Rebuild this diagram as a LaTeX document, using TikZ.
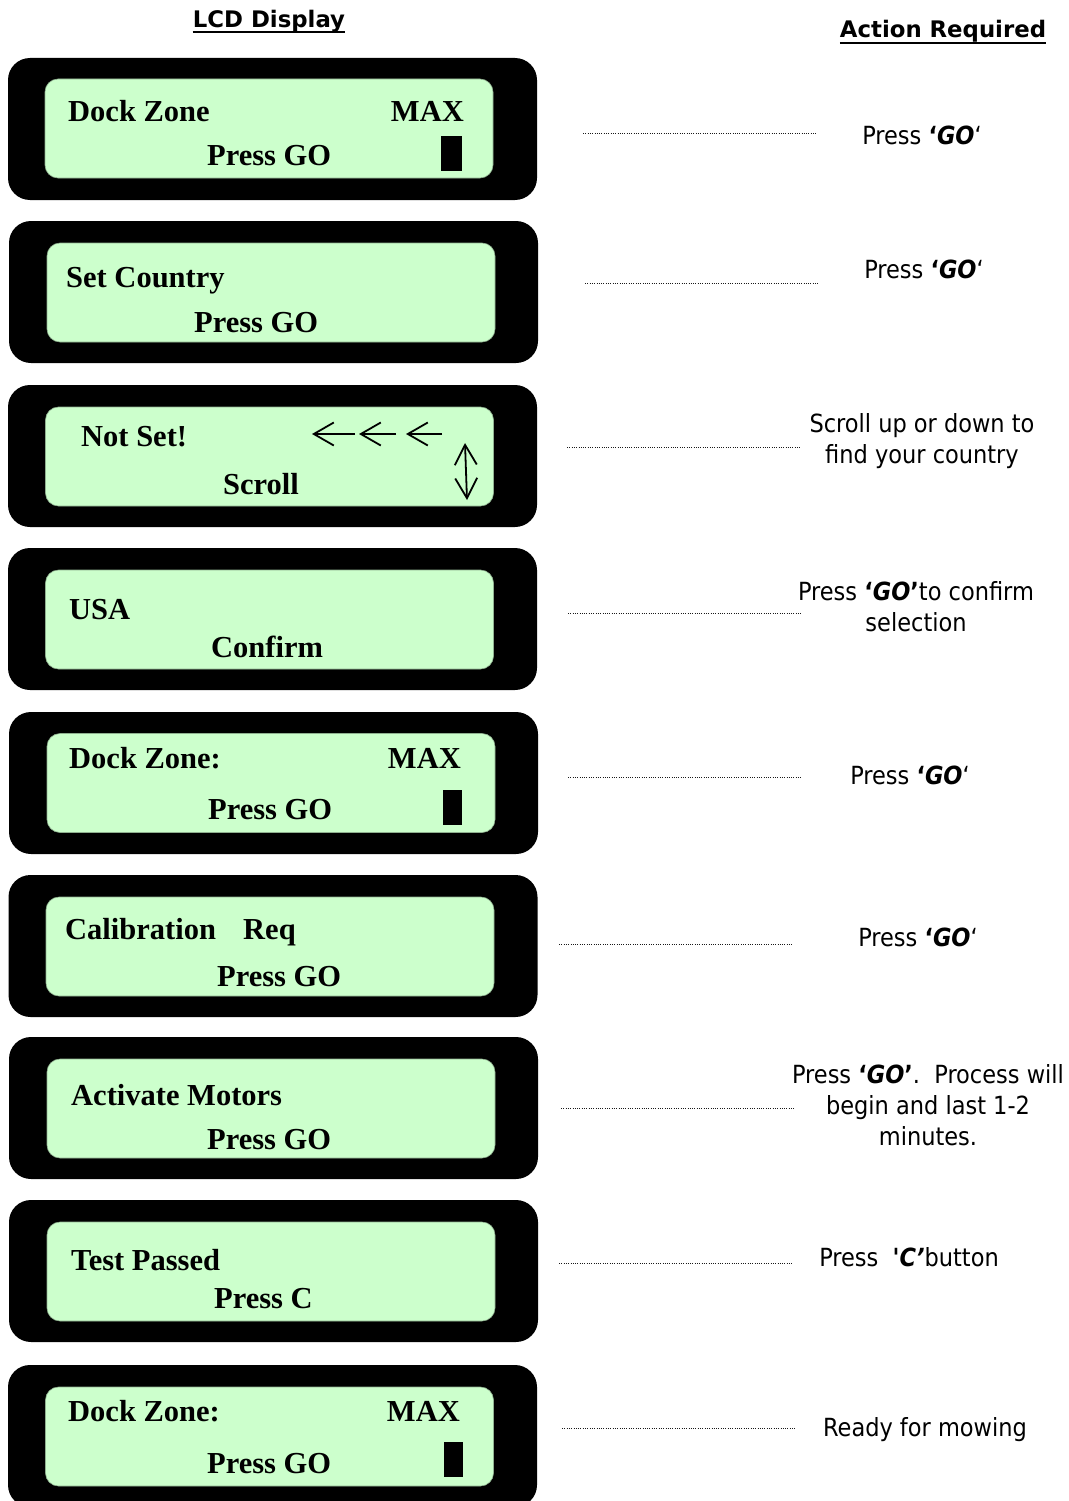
\documentclass[tikz,border=0pt]{standalone}
\usepackage{fontspec}
\setmainfont{Liberation Serif}
\newfontfamily\actfont{DejaVu Sans Condensed}
\newfontfamily\headfont{DejaVu Sans}
\usetikzlibrary{arrows.meta}
\definecolor{lcdgreen}{HTML}{CCFFCC}
\definecolor{screenedge}{HTML}{8FB08F}
\definecolor{leaderline}{HTML}{1A1A1A}
\newcommand{\lcdsize}{\fontsize{30.5}{34}\selectfont\bfseries}
\newcommand{\actsize}{\fontsize{25}{31}\selectfont}
\newcommand{\gobold}{{\bfseries\itshape GO}}

\begin{document}
\begin{tikzpicture}[x=1pt,y=-1pt,
  lcdframe/.style={fill=black,rounded corners=22pt,minimum width=529pt,minimum height=142pt,inner sep=0pt},
  lcdscreen/.style={fill=lcdgreen,draw=screenedge,line width=.6pt,rounded corners=13pt,minimum width=448pt,minimum height=99pt,inner sep=0pt},
  lcdtxt/.style={font=\lcdsize,inner sep=0pt,anchor=base west},
  lcdright/.style={font=\lcdsize,inner sep=0pt,anchor=base east},
  cursorbox/.style={fill=black},
  scrollarrow/.style={line width=1.8pt,-{Straight Barb[length=20pt,width=23pt]}},
  updown/.style={line width=1.8pt,{Straight Barb[length=20pt,width=22pt]}-{Straight Barb[length=20pt,width=22pt]}},
  leader/.style={draw=leaderline,line width=.9pt,dash pattern=on .9pt off 1.4pt},
  acttxt/.style={font=\actfont\actsize,align=center,inner sep=0pt,anchor=base},
  headtxt/.style={font=\headfont\bfseries\fontsize{22.8}{26}\selectfont,inner sep=0pt,anchor=base},
  ulline/.style={line width=2.6pt}]
\useasboundingbox (0,0) rectangle (1068,1501);

% headings
\node[headtxt] (hlcd) at (269,28) {LCD Display};
\node[headtxt] (hact) at (943,38) {Action Required};
\draw[ulline] ([yshift=-4pt]hlcd.base west) -- ([yshift=-4pt]hlcd.base east);
\draw[ulline] ([yshift=-5pt]hact.base west) -- ([yshift=-5pt]hact.base east);

% LCD panels
\node[lcdframe] (lcd1) at (272.5,129) {};
\node[lcdscreen] (scr1) at (269,128.5) {};
\node[lcdframe] (lcd2) at (273.5,292) {};
\node[lcdscreen] (scr2) at (271,292.5) {};
\node[lcdframe] (lcd3) at (272.5,456) {};
\node[lcdscreen] (scr3) at (269.5,456.5) {};
\node[lcdframe] (lcd4) at (272.5,619) {};
\node[lcdscreen] (scr4) at (269.5,619.5) {};
\node[lcdframe] (lcd5) at (273.5,783) {};
\node[lcdscreen] (scr5) at (271,783) {};
\node[lcdframe] (lcd6) at (273,946) {};
\node[lcdscreen] (scr6) at (270,946.5) {};
\node[lcdframe] (lcd7) at (273.5,1108) {};
\node[lcdscreen] (scr7) at (271,1108.5) {};
\node[lcdframe] (lcd8) at (273.5,1271) {};
\node[lcdscreen] (scr8) at (271,1271.5) {};
\node[lcdframe] (lcd9) at (272.5,1436) {};
\node[lcdscreen] (scr9) at (269.5,1436.5) {};

% screen texts
\node[lcdtxt] (t1a) at (68,122) {Dock Zone};
\node[lcdright] (t1b) at (464,122) {MAX};
\node[lcdtxt] (t1c) at (207,165) {Press GO};
\fill[cursorbox] (441,136) rectangle (462,171);

\node[lcdtxt] (t2a) at (66,287) {Set Country};
\node[lcdtxt] (t2b) at (194,332) {Press GO};

\node[lcdtxt] (t3a) at (81,446) {Not Set!};
\node[lcdtxt] (t3b) at (223,494) {Scroll};
\draw[scrollarrow] (355,434) -- (312,434);
\draw[scrollarrow] (396,434) -- (359,434);
\draw[scrollarrow] (442,434) -- (406,434);
\draw[updown] (465,443) -- (467,500);

\node[lcdtxt] (t4a) at (69,619) {USA};
\node[lcdtxt] (t4b) at (211,657) {Confirm};

\node[lcdtxt] (t5a) at (69,768) {Dock Zone:};
\node[lcdright] (t5b) at (461,768) {MAX};
\node[lcdtxt] (t5c) at (208,819) {Press GO};
\fill[cursorbox] (443,790) rectangle (462,825);

\node[lcdtxt] (t6a) at (65,939) {Calibration};
\node[lcdtxt] (t6b) at (243,939) {Req};
\node[lcdtxt] (t6c) at (217,986) {Press GO};

\node[lcdtxt] (t7a) at (71,1105) {Activate Motors};
\node[lcdtxt] (t7b) at (207,1149) {Press GO};

\node[lcdtxt] (t8a) at (71,1270) {Test Passed};
\node[lcdtxt] (t8b) at (214,1308) {Press C};

\node[lcdtxt] (t9a) at (68,1421) {Dock Zone:};
\node[lcdright] (t9b) at (460,1421) {MAX};
\node[lcdtxt] (t9c) at (207,1473) {Press GO};
\fill[cursorbox] (444,1442) rectangle (463,1477);

% actions (base = last line)
\node[acttxt] (act1) at (922,145) {Press {\bfseries‘}\gobold‘};
\node[acttxt] (act2) at (924,278) {Press {\bfseries‘}\gobold‘};
\node[acttxt] (act3) at (922,463) {Scroll up or down to\\find your country};
\node[acttxt] (act4) at (916,631) {Press {\bfseries‘}\gobold{\bfseries’}to confirm\\selection};
\node[acttxt] (act5) at (910,784) {Press {\bfseries‘}\gobold‘};
\node[acttxt] (act6) at (918,946) {Press {\bfseries‘}\gobold‘};
\node[acttxt] (act7) at (928,1145) {Press {\bfseries‘}\gobold{\bfseries’}.\ \ Process will\\begin and last 1-2\\minutes.};
\node[acttxt] (act8) at (909,1266) {Press\ \ {\bfseries\itshape\textquotesingle C’}button};
\node[acttxt] (act9) at (925,1436) {Ready for mowing};

% leaders
\coordinate (la1) at (583,133);  \coordinate (lb1) at (816,133);
\coordinate (la2) at (585,283);  \coordinate (lb2) at (818,283);
\coordinate (la3) at (567,447);  \coordinate (lb3) at (801,447);
\coordinate (la4) at (568,613);  \coordinate (lb4) at (802,613);
\coordinate (la5) at (568,777);  \coordinate (lb5) at (802,777);
\coordinate (la6) at (559,944);  \coordinate (lb6) at (793,944);
\coordinate (la7) at (561,1108); \coordinate (lb7) at (795,1108);
\coordinate (la8) at (559,1263); \coordinate (lb8) at (793,1263);
\coordinate (la9) at (562,1428); \coordinate (lb9) at (795,1428);
\draw[leader] (la1) -- (lb1);
\draw[leader] (la2) -- (lb2);
\draw[leader] (la3) -- (lb3);
\draw[leader] (la4) -- (lb4);
\draw[leader] (la5) -- (lb5);
\draw[leader] (la6) -- (lb6);
\draw[leader] (la7) -- (lb7);
\draw[leader] (la8) -- (lb8);
\draw[leader] (la9) -- (lb9);
\end{tikzpicture}
\end{document}
